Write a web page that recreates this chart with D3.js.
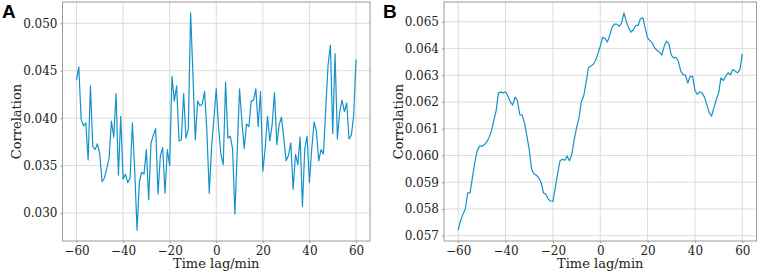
<!DOCTYPE html>
<html>
<head>
<meta charset="utf-8">
<script src="https://cdn.jsdelivr.net/npm/d3@7"></script>
<style>
  body { margin: 0; background: #fff; }
  svg { display: block; }
</style>
</head>
<body>
<svg width="761" height="273"></svg>
<script>
// Time lags (minutes), one value per minute
const lags = d3.range(-60, 61);

// Panel A correlation values
const corrA = [
  0.0440, 0.0454, 0.0399, 0.0392, 0.0395, 0.0356, 0.0434, 0.0370, 0.0367, 0.0373,
  0.0362, 0.0333, 0.0337, 0.0347, 0.0358, 0.0397, 0.0380, 0.0426, 0.0340, 0.0402,
  0.0336, 0.0341, 0.0332, 0.0337, 0.0395, 0.0345, 0.0282, 0.0333, 0.0343, 0.0341,
  0.0367, 0.0314, 0.0374, 0.0382, 0.0389, 0.0320, 0.0360, 0.0369, 0.0321, 0.0367,
  0.0350, 0.0444, 0.0418, 0.0434, 0.0376, 0.0377, 0.0426, 0.0379, 0.0388, 0.0511,
  0.0445, 0.0377, 0.0418, 0.0413, 0.0415, 0.0428, 0.0385, 0.0321, 0.0370, 0.0400,
  0.0431, 0.0390, 0.0362, 0.0351, 0.0438, 0.0379, 0.0381, 0.0368, 0.0299, 0.0365,
  0.0431, 0.0397, 0.0368, 0.0394, 0.0391, 0.0418, 0.0419, 0.0431, 0.0391, 0.0428,
  0.0344, 0.0368, 0.0402, 0.0376, 0.0393, 0.0427, 0.0372, 0.0393, 0.0401, 0.0379,
  0.0355, 0.0361, 0.0374, 0.0325, 0.0362, 0.0351, 0.0380, 0.0307, 0.0368, 0.0381,
  0.0332, 0.0368, 0.0396, 0.0386, 0.0355, 0.0367, 0.0362, 0.0410, 0.0456, 0.0477,
  0.0384, 0.0468, 0.0378, 0.0407, 0.0419, 0.0407, 0.0416, 0.0378, 0.0382, 0.0403,
  0.0462
];

// Panel B correlation values
const corrB = [
  0.05721, 0.05756, 0.05780, 0.05799, 0.05860, 0.05860, 0.05917, 0.05973, 0.06017, 0.06035,
  0.06035, 0.06040, 0.06050, 0.06066, 0.06090, 0.06130, 0.06166, 0.06234, 0.06237, 0.06234,
  0.06238, 0.06222, 0.06201, 0.06188, 0.06218, 0.06206, 0.06153, 0.06151, 0.06122, 0.06073,
  0.06023, 0.05948, 0.05932, 0.05926, 0.05917, 0.05899, 0.05861, 0.05855, 0.05837, 0.05830,
  0.05828, 0.05880, 0.05932, 0.05980, 0.05986, 0.05982, 0.05998, 0.05980, 0.06004, 0.06060,
  0.06104, 0.06140, 0.06200, 0.06222, 0.06271, 0.06327, 0.06334, 0.06340, 0.06355, 0.06380,
  0.06408, 0.06442, 0.06437, 0.06424, 0.06449, 0.06479, 0.06491, 0.06491, 0.06483, 0.06495,
  0.06533, 0.06501, 0.06476, 0.06461, 0.06470, 0.06486, 0.06486, 0.06512, 0.06514, 0.06476,
  0.06439, 0.06429, 0.06420, 0.06402, 0.06392, 0.06387, 0.06375, 0.06408, 0.06427, 0.06417,
  0.06375, 0.06365, 0.06367, 0.06352, 0.06315, 0.06302, 0.06300, 0.06271, 0.06296, 0.06296,
  0.06243, 0.06228, 0.06238, 0.06234, 0.06218, 0.06191, 0.06160, 0.06147, 0.06178, 0.06209,
  0.06234, 0.06290, 0.06280, 0.06296, 0.06309, 0.06302, 0.06321, 0.06315, 0.06309, 0.06321,
  0.06380
];

const xTicks = [-60, -40, -20, 0, 20, 40, 60];
const yTicksA = [0.030, 0.035, 0.040, 0.045, 0.050];
const yTicksB = [0.057, 0.058, 0.059, 0.060, 0.061, 0.062, 0.063, 0.064, 0.065];

const svg = d3.select("svg");
const lineColor = "#1492c9";
const spineColor = "#9a9a9a";
const gridColor = "#dcdcdc";
const fmtMinus = d => d3.format("d")(d).replace("-", "\u2212");

function drawPanel(opts) {
  const { left, right, top, bottom, values, yTicks, letter, letterX, labelX } = opts;

  // matplotlib-style 5% margins around the data
  const xExt = d3.extent(lags), yExt = d3.extent(values);
  const xPad = (xExt[1] - xExt[0]) * 0.05, yPad = (yExt[1] - yExt[0]) * 0.05;

  const x = d3.scaleLinear()
    .domain([xExt[0] - xPad, xExt[1] + xPad])
    .range([left, right]);
  const y = d3.scaleLinear()
    .domain([yExt[0] - yPad, yExt[1] + yPad])
    .range([bottom, top]);

  const g = svg.append("g");

  // grid
  g.append("g")
    .selectAll("line")
    .data(xTicks)
    .join("line")
    .attr("x1", d => x(d)).attr("x2", d => x(d))
    .attr("y1", top).attr("y2", bottom)
    .attr("stroke", gridColor).attr("stroke-width", 1);
  g.append("g")
    .selectAll("line")
    .data(yTicks)
    .join("line")
    .attr("x1", left).attr("x2", right)
    .attr("y1", d => y(d)).attr("y2", d => y(d))
    .attr("stroke", gridColor).attr("stroke-width", 1);

  // the line
  g.append("path")
    .datum(values)
    .attr("fill", "none")
    .attr("stroke", lineColor)
    .attr("stroke-width", 1.2)
    .attr("stroke-linejoin", "round")
    .attr("d", d3.line()
      .x((d, i) => x(lags[i]))
      .y(d => y(d)));

  // axes
  const xAxis = g.append("g")
    .attr("transform", `translate(0,${bottom})`)
    .call(d3.axisBottom(x).tickValues(xTicks).tickFormat(fmtMinus).tickSizeOuter(0).tickSize(2).tickPadding(3));
  const yAxis = g.append("g")
    .attr("transform", `translate(${left},0)`)
    .call(d3.axisLeft(y).tickValues(yTicks).tickFormat(d3.format(".3f")).tickSizeOuter(0).tickSize(2).tickPadding(3));

  [xAxis, yAxis].forEach(a => {
    a.select(".domain").remove();
    a.selectAll("line").attr("stroke", spineColor);
    a.selectAll("text")
      .attr("fill", "#222")
      .style("font-family", "'DejaVu Serif', serif")
      .style("font-size", "12px");
  });

  // frame
  g.append("rect")
    .attr("x", left).attr("y", top)
    .attr("width", right - left).attr("height", bottom - top)
    .attr("fill", "none")
    .attr("stroke", spineColor)
    .attr("stroke-width", 1);

  // axis labels
  g.append("text")
    .attr("x", (left + right) / 2)
    .attr("y", 268)
    .attr("text-anchor", "middle")
    .style("font-family", "'DejaVu Serif', serif")
    .style("font-size", "13px")
    .attr("fill", "#222")
    .text("Time lag/min");

  g.append("text")
    .attr("transform", `translate(${labelX},${(top + bottom) / 2}) rotate(-90)`)
    .attr("text-anchor", "middle")
    .style("font-family", "'DejaVu Serif', serif")
    .style("font-size", "13px")
    .attr("fill", "#222")
    .text("Correlation");

  // panel letter
  svg.append("text")
    .attr("x", letterX)
    .attr("y", 18)
    .style("font-family", "'Liberation Sans', Arial, sans-serif")
    .style("font-weight", "bold")
    .style("font-size", "19px")
    .attr("fill", "#000")
    .text(letter);
}

drawPanel({ left: 62.5, right: 370, top: 2, bottom: 241, values: corrA, yTicks: yTicksA, letter: "A", letterX: 2, labelX: 21 });
drawPanel({ left: 444, right: 756.5, top: 2, bottom: 241, values: corrB, yTicks: yTicksB, letter: "B", letterX: 383, labelX: 403 });
</script>
</body>
</html>
